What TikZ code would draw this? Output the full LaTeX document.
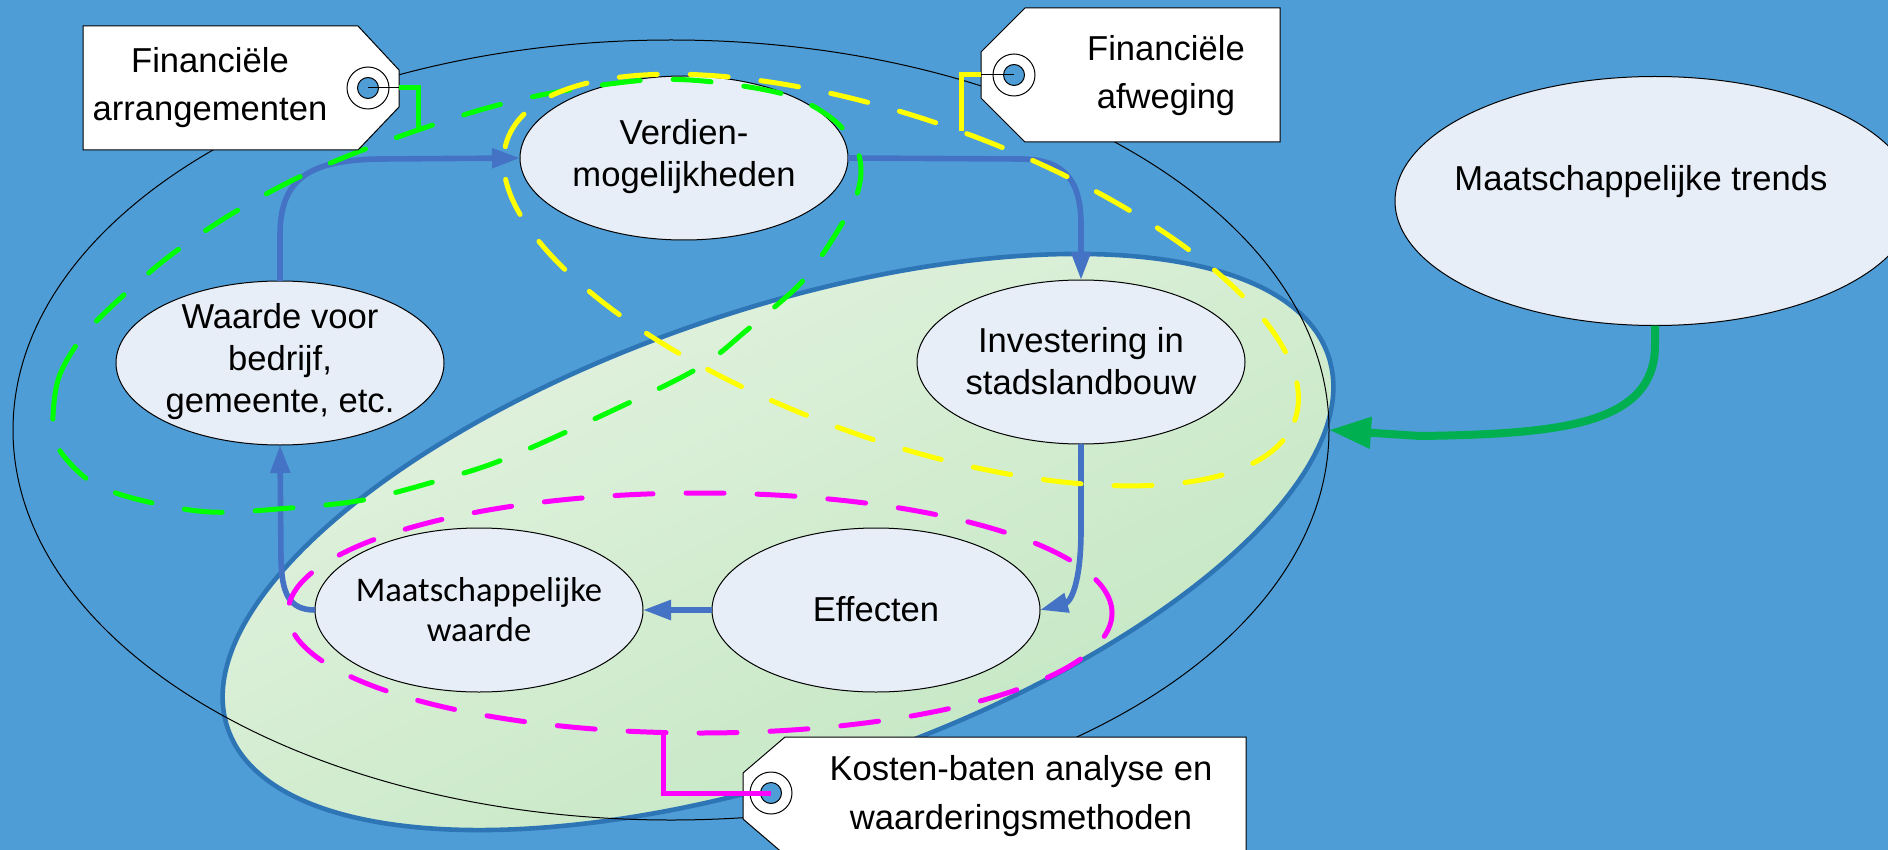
\documentclass[tikz,border=0pt]{standalone}
\usepackage{fontspec}
\setmainfont{Liberation Sans}
\newfontfamily\carl{Carlito}
\usetikzlibrary{shapes.geometric,arrows.meta,calc}
\definecolor{bg}{RGB}{79,157,214}
\definecolor{nodefill}{RGB}{232,238,247}
\definecolor{arrowblue}{RGB}{68,114,196}
\definecolor{ellborder}{RGB}{46,117,182}
\definecolor{lgA}{RGB}{230,243,226}
\definecolor{lgB}{RGB}{192,230,191}
\definecolor{trendgreen}{RGB}{0,176,80}
\definecolor{limec}{RGB}{0,255,0}
\definecolor{yelc}{RGB}{255,255,0}
\definecolor{magc}{RGB}{255,0,255}
\begin{document}
\begin{tikzpicture}[x=0.5pt,y=-0.5pt,
  every node/.style={inner sep=0pt, outer sep=0pt},
  bubble/.style={ellipse, draw=black, line width=0.5pt, fill=nodefill, minimum width=164pt, minimum height=82pt},
  btext/.style={align=center, font=\fontsize{17.3}{21}\selectfont},
  dashstyle/.style={line width=2.5pt, dash pattern=on 19pt off 16.5pt, line cap=round},
  dashring/.style={ellipse, draw=#1, dashstyle},
  flowarrow/.style={draw=arrowblue, line width=2.8pt, -{Triangle[length=14pt,width=9.5pt]}},
  tagshape/.style={fill=white, draw=black, line width=0.5pt},
  tagtext/.style={align=center, font=\fontsize{17.3}{24}\selectfont},
  tagring/.style={circle, fill=white, draw=black, line width=0.5pt, minimum size=21pt},
  taghole/.style={circle, fill=bg, draw=black, line width=0.5pt, minimum size=10.5pt},
  tagconn/.style={draw=#1, line width=2.5pt},
]
\useasboundingbox (0,0) rectangle (1888,850);
\clip (0,0) rectangle (1888,850);
\fill[bg] (0,0) rectangle (1888,850);

% green zone
\node[ellipse, minimum width=581pt, minimum height=232pt, rotate=18.7, draw=ellborder, line width=2.3pt, top color=lgA, bottom color=lgB, shading angle=26] (zone) at (778,542) {};
% big outer ellipse
\node[ellipse, draw=black, line width=0.5pt, minimum width=658pt, minimum height=390pt] (outer) at (671,430) {};

% nodes
\node[bubble] (verd) at (684,158) {};
\node[btext] (verdtext) at (684,157) {Verdien-\\mogelijkheden};
\node[bubble] (waarde) at (280,363) {};
\node[btext] (waardetext) at (280,362) {Waarde voor\\bedrijf,\\gemeente, etc.};
\node[bubble] (inv) at (1081,362) {};
\node[btext] (invtext) at (1081,361) {Investering in\\stadslandbouw};
\node[bubble] (mw) at (479,610) {};
\node[btext, font=\carl\fontsize{17.3}{20}\selectfont] (mwtext) at (479,610) {Maatschappelijke\\waarde};
\node[bubble] (eff) at (876,610) {};
\node[btext] (efftext) at (876,609) {Effecten};
\node[bubble, minimum width=260pt, minimum height=124.5pt] (trends) at (1655,201) {};
\node[btext] (trendstext) at (1641,182) {Maatschappelijke trends};

% blue flow arrows
\draw[flowarrow] (waarde.north) -- (280,235) .. controls (280,178) and (310,160) .. (380,159) -- (verd.west);
\draw[flowarrow] (verd.east) -- (1020,159) .. controls (1066,159) and (1081,182) .. (1081,225) -- (inv.north);
\draw[flowarrow] (inv.south) -- (1081,530) .. controls (1081,585) and (1070,602) .. (eff.east);
\draw[flowarrow] (eff.west) -- (mw.east);
\draw[flowarrow] (mw.west) .. controls (288,610) and (282,592) .. (281,560) -- (waarde.south);

% trend arrow
\draw[trendgreen, line width=4pt, -{Triangle[length=21pt,width=15pt]}] (trends.south) -- (1655,345) .. controls (1655,425) and (1560,434) .. (1420,436) -- (outer.-0.6);

% dashed loops
\draw[limec, dashstyle] plot[smooth cycle, tension=0.55] coordinates {
  (53,430) (58,380) (80,340) (113,305) (167,258) (225,218) (287,183) (350,155)
  (418,130) (487,108) (557,92) (647,80) (713,82) (787,95) (830,117) (855,145)
  (861,172) (855,200) (840,227) (820,258) (797,287) (747,330) (700,367) (620,407)
  (507,458) (440,480) (363,500) (290,508) (210,512) (140,500) (93,483) (63,455)};
\node[dashring=yelc, minimum width=418pt, minimum height=160pt, rotate=-19.6] (yloop) at (901,280) {};
\node[dashring=magc, minimum width=412pt, minimum height=120pt] (mloop) at (700,613) {};

% tag A
\draw[tagshape] (83,26) -- (358,26) -- (399,70) -- (399,107) -- (358,150) -- (83,150) -- cycle;
\node[tagtext] (tagAtext) at (210,88) {Financiële\\arrangementen};
\node[tagring] (ringA) at (368,88) {};
\node[taghole] (holeA) at (368,88) {};
\coordinate (tagAedge) at (399,88);
\coordinate (gA) at (418,131);
\draw[black, line width=0.5pt] (holeA.center) -- (tagAedge);
\draw[tagconn=limec] (tagAedge) -| (gA);

% tag B
\draw[tagshape] (981,52) -- (1025,8) -- (1280,8) -- (1280,142) -- (1025,142) -- (981,98) -- cycle;
\node[tagtext] (tagBtext) at (1166,76) {Financiële\\afweging};
\node[tagring] (ringB) at (1014,75) {};
\node[taghole] (holeB) at (1014,75) {};
\coordinate (tagBedge) at (981,75);
\coordinate (yB) at (961,131);
\draw[black, line width=0.5pt] (holeB.center) -- (tagBedge);
\draw[tagconn=yelc] (tagBedge) -| (yB);

% tag C
\draw[tagshape] (743,773) -- (785,737) -- (1246,737) -- (1246,900) -- (785,900) -- (785,855) -- (743,819) -- cycle;
\node[tagtext, font=\fontsize{17.3}{24.5}\selectfont] (tagCtext) at (1021,796) {Kosten-baten analyse en\\waarderingsmethoden};
\node[tagring] (ringC) at (771,793) {};
\node[taghole] (holeC) at (771,793) {};
\coordinate (mC) at (663,733);
\draw[tagconn=magc] (holeC.center) -| (mC);
\end{tikzpicture}
\end{document}
